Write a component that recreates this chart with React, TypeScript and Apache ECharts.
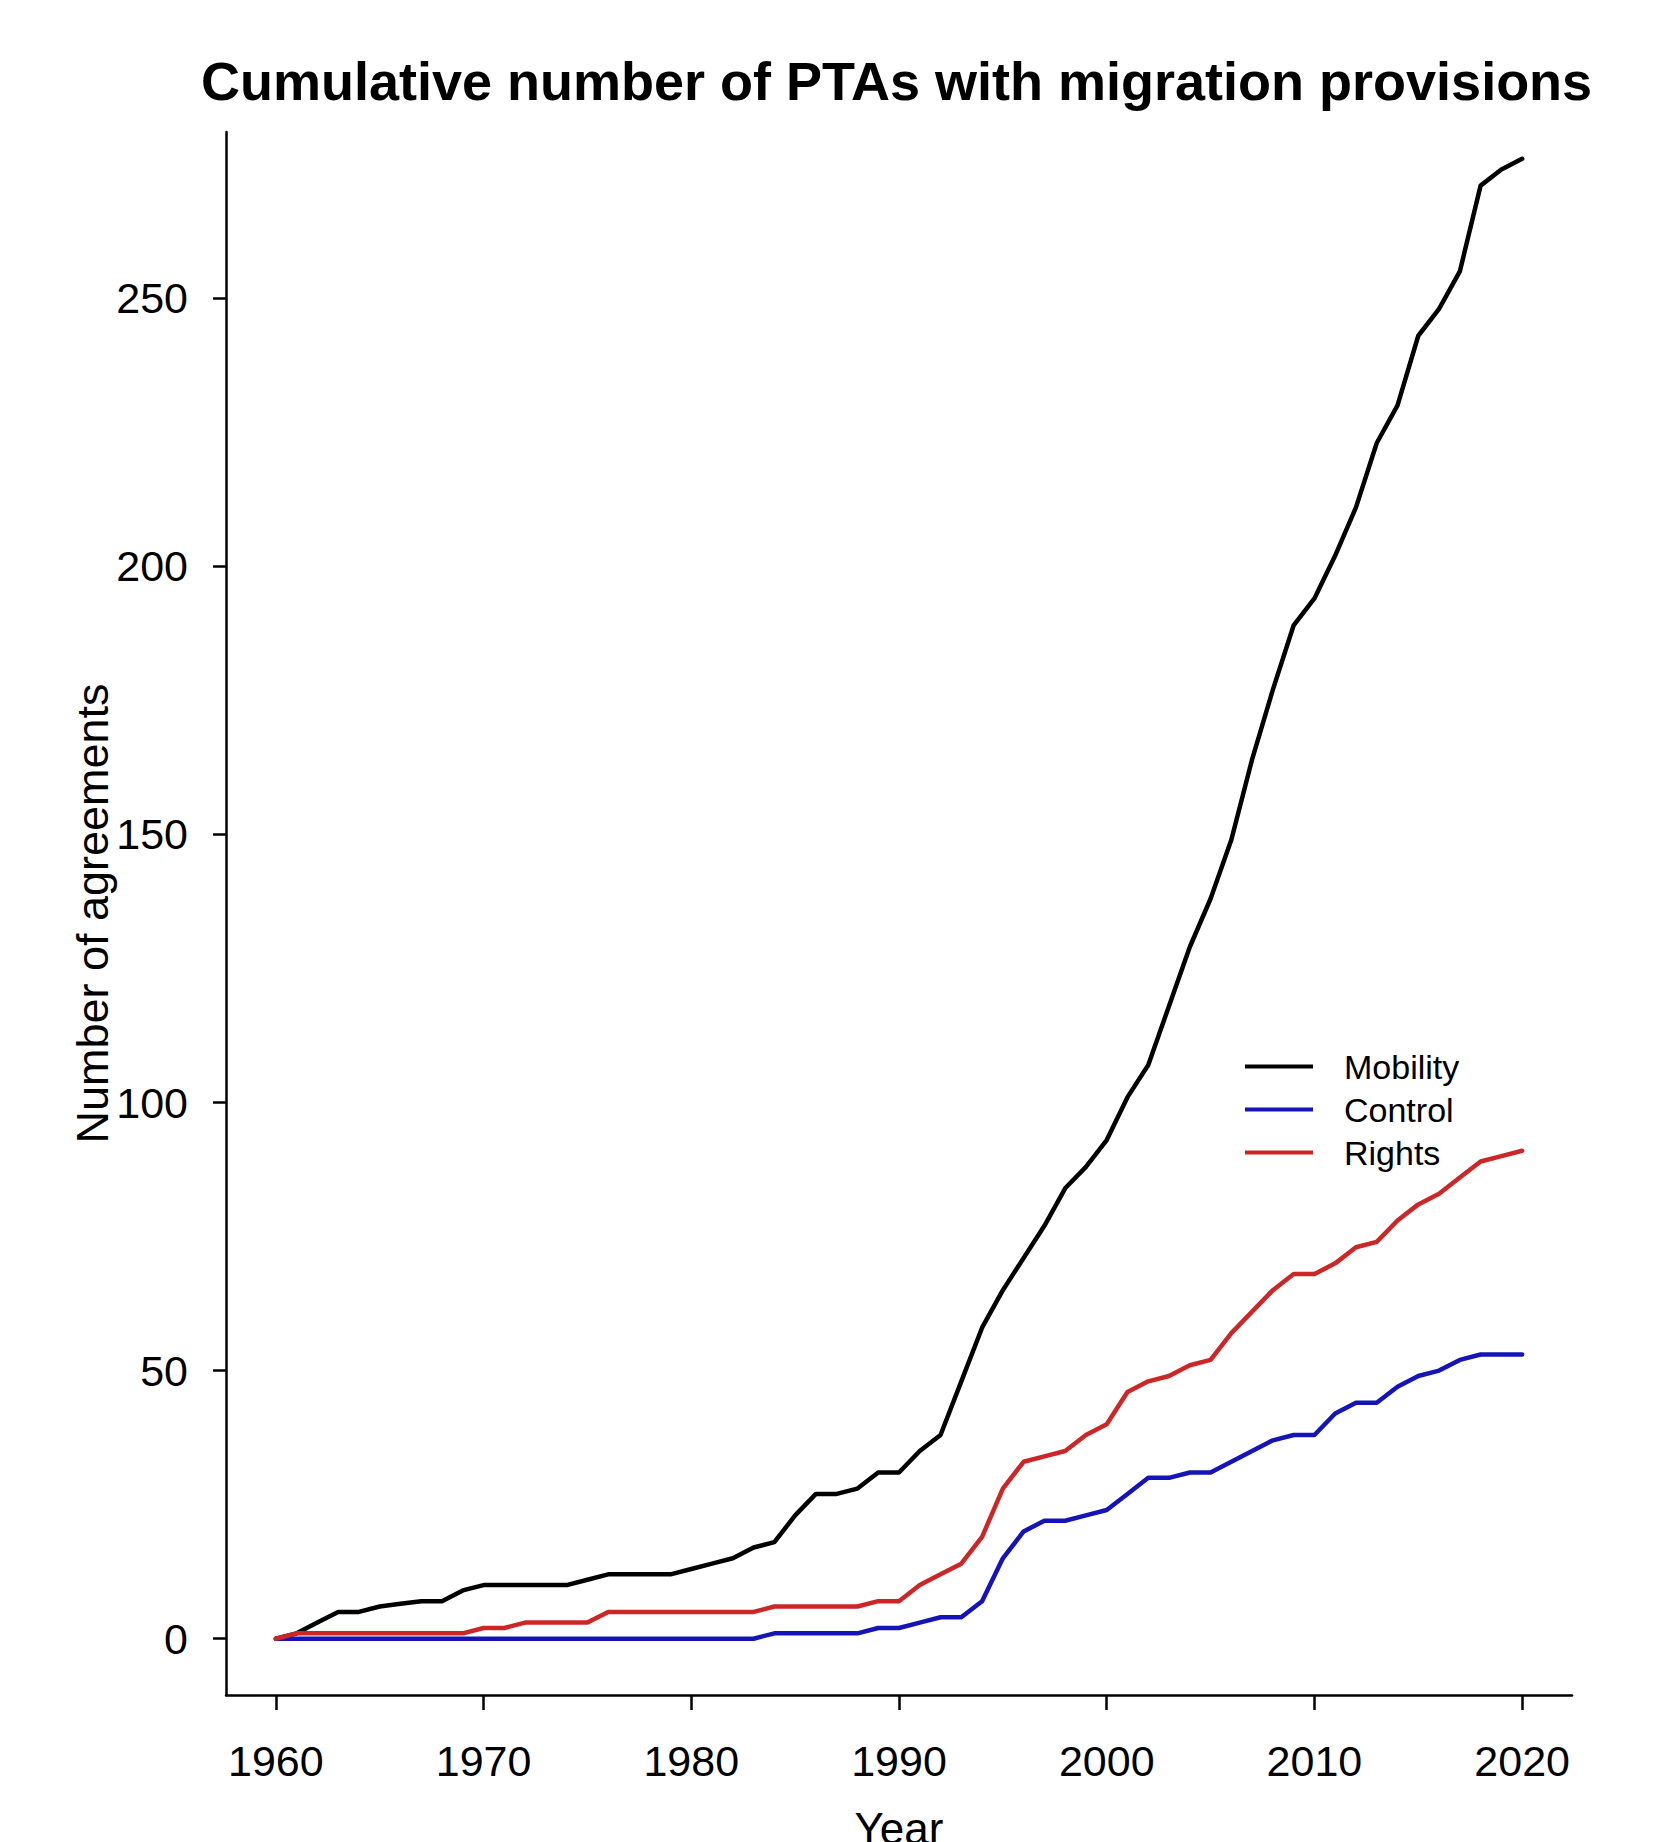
import React, { useEffect, useRef } from "react";
import * as echarts from "echarts";

const years = [
  1960, 1961, 1962, 1963, 1964, 1965, 1966, 1967, 1968, 1969,
  1970, 1971, 1972, 1973, 1974, 1975, 1976, 1977, 1978, 1979,
  1980, 1981, 1982, 1983, 1984, 1985, 1986, 1987, 1988, 1989,
  1990, 1991, 1992, 1993, 1994, 1995, 1996, 1997, 1998, 1999,
  2000, 2001, 2002, 2003, 2004, 2005, 2006, 2007, 2008, 2009,
  2010, 2011, 2012, 2013, 2014, 2015, 2016, 2017, 2018, 2019,
  2020,
];

const mobility = [
  0, 1, 3, 5, 5, 6, 6.5, 7, 7, 9,
  10, 10, 10, 10, 10, 11, 12, 12, 12, 12,
  13, 14, 15, 17, 18, 23, 27, 27, 28, 31,
  31, 35, 38, 48, 58, 65, 71, 77, 84, 88,
  93, 101, 107, 118, 129, 138, 149, 164, 177, 189,
  194, 202, 211, 223, 230, 243, 248, 255, 271, 274,
  276,
];

const control = [
  0, 0, 0, 0, 0, 0, 0, 0, 0, 0,
  0, 0, 0, 0, 0, 0, 0, 0, 0, 0,
  0, 0, 0, 0, 1, 1, 1, 1, 1, 2,
  2, 3, 4, 4, 7, 15, 20, 22, 22, 23,
  24, 27, 30, 30, 31, 31, 33, 35, 37, 38,
  38, 42, 44, 44, 47, 49, 50, 52, 53, 53,
  53,
];

const rights = [
  0, 1, 1, 1, 1, 1, 1, 1, 1, 1,
  2, 2, 3, 3, 3, 3, 5, 5, 5, 5,
  5, 5, 5, 5, 6, 6, 6, 6, 6, 7,
  7, 10, 12, 14, 19, 28, 33, 34, 35, 38,
  40, 46, 48, 49, 51, 52, 57, 61, 65, 68,
  68, 70, 73, 74, 78, 81, 83, 86, 89, 90,
  91,
];

const seriesNames = ["Mobility", "Control", "Rights"];
const seriesColors = ["#000000", "#1414b8", "#cd2626"];
const xTicks = [1960, 1970, 1980, 1990, 2000, 2010, 2020];
const yTicks = [0, 50, 100, 150, 200, 250];
const titleText = "Cumulative number of PTAs with migration provisions";
const xName = "Year";
const yName = "Number of agreements";

export default function App() {
  const ref = useRef<HTMLDivElement>(null);

  useEffect(() => {
    document.body.style.margin = "0";
    const chart = echarts.init(ref.current as HTMLDivElement, null, { renderer: "svg" });
    const font = "'Liberation Sans', Arial, Helvetica, sans-serif";
    const pair = (arr: number[]) => years.map((y, i) => [y, arr[i]]);
    const allData = [mobility, control, rights];

    chart.setOption({
      animation: false,
      backgroundColor: "#ffffff",
      title: {
        text: titleText,
        left: 201,
        top: 54,
        padding: 0,
        textStyle: { fontFamily: font, fontSize: 54, fontWeight: "bold", color: "#000" },
      },
      legend: {
        orient: "vertical",
        left: 1245,
        top: 1045,
        padding: 0,
        itemWidth: 68,
        itemHeight: 4,
        itemGap: 0,
        icon: "rect",
        data: seriesNames,
        textStyle: {
          fontFamily: font,
          fontSize: 34,
          color: "#000",
          lineHeight: 43,
          padding: [0, 0, 0, 26],
        },
      },
      grid: {
        left: 226,
        right: 82,
        top: 132,
        bottom: 147,
        containLabel: false,
        outerBoundsMode: "none",
      },
      xAxis: {
        type: "value",
        min: 1957.6,
        max: 2022.4,
        name: xName,
        nameLocation: "middle",
        nameGap: 111,
        nameMoveOverlap: false,
        nameTextStyle: { fontFamily: font, fontSize: 44, color: "#000" },
        axisLine: { onZero: false, lineStyle: { color: "#000", width: 2.5 } },
        axisTick: { show: true, customValues: xTicks, length: 15, lineStyle: { color: "#000", width: 2.5 } },
        axisLabel: {
          customValues: xTicks,
          margin: 44,
          fontFamily: font,
          fontSize: 43,
          color: "#000",
          formatter: (v: number) => String(v),
        },
        splitLine: { show: false },
      },
      yAxis: {
        type: "value",
        min: -10.5,
        max: 281,
        name: yName,
        nameLocation: "middle",
        nameRotate: 90,
        nameGap: 111,
        nameMoveOverlap: false,
        nameTextStyle: { fontFamily: font, fontSize: 45, color: "#000" },
        axisLine: { show: true, onZero: false, lineStyle: { color: "#000", width: 2.5 } },
        axisTick: { show: true, customValues: yTicks, length: 13, lineStyle: { color: "#000", width: 2.5 } },
        axisLabel: {
          customValues: yTicks,
          margin: 38,
          fontFamily: font,
          fontSize: 43,
          color: "#000",
          formatter: (v: number) => String(v),
        },
        splitLine: { show: false },
      },
      series: seriesNames.map((name, i) => ({
        name,
        type: "line",
        data: pair(allData[i]),
        showSymbol: false,
        symbol: "none",
        lineStyle: { color: seriesColors[i], width: 4.5, join: "round", cap: "round" },
        itemStyle: { color: seriesColors[i] },
      })),
    });

    return () => chart.dispose();
  }, []);

  return <div ref={ref} style={{ width: 1654, height: 1842 }} />;
}
